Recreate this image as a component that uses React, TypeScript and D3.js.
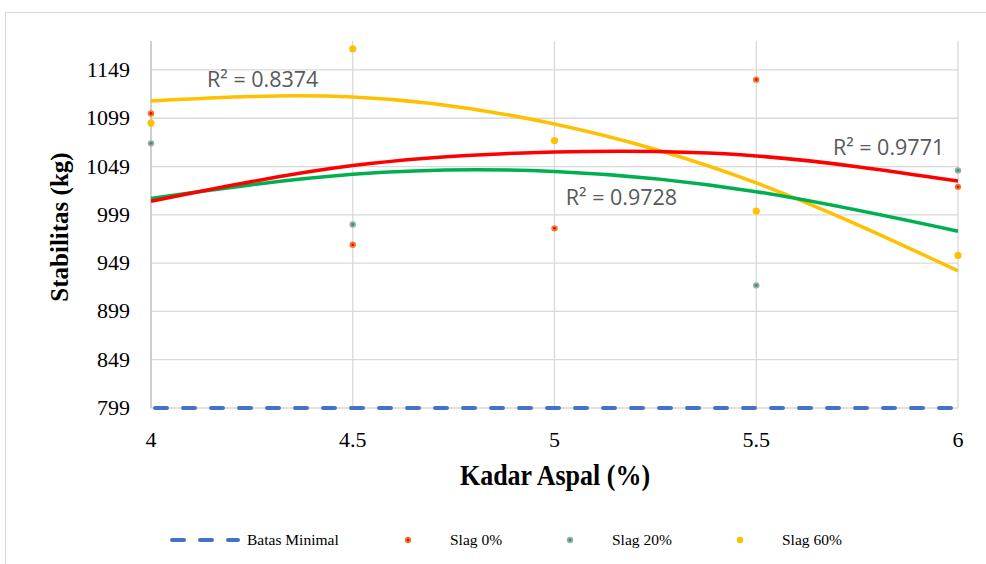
import React, { useEffect, useRef } from "react";
import * as d3 from "d3";

// Kadar aspal (%) on the x axis
const kadarAspal = [4, 4.5, 5, 5.5, 6];

// measured stabilitas (kg)
const slag0 = [1104, 968, 985, 1139, 1028];
const slag20 = [1073, 989, null, 926, 1045];
const slag60 = [1094, 1171, 1076, 1003, 957];

// polynomial trendlines (read at each kadar)
const trend0 = [1013, 1050, 1064, 1060, 1034];
const trend20 = [1016, 1041, 1044, 1023, 982];
const trend60 = [1117, 1121, 1093, 1032, 941];

const batasMinimal = 799;
const yTicks = [799, 849, 899, 949, 999, 1049, 1099, 1149];

// R² labels: [x value, y value, text]
const r2Labels: [number, number, string][] = [
  [4.139, 1131, "R² = 0.8374"],
  [5.028, 1009, "R² = 0.9728"],
  [5.69, 1061, "R² = 0.9771"],
];

const serif = "'Liberation Serif', 'Times New Roman', serif";

export default function App() {
  const ref = useRef<SVGSVGElement>(null);

  useEffect(() => {
    const svg = d3.select(ref.current);
    svg.selectAll("*").remove();

    const x = d3.scaleLinear().domain([4, 6]).range([151, 958]);
    const y = d3.scaleLinear().domain([799, 1179]).range([408, 41]);

    // chart frame
    svg
      .append("rect")
      .attr("x", 5.5)
      .attr("y", 12.5)
      .attr("width", 1000)
      .attr("height", 600)
      .attr("fill", "#fff")
      .attr("stroke", "#d9d9d9");

    const grid = svg.append("g");
    grid
      .selectAll(".hgrid")
      .data(yTicks)
      .enter()
      .append("line")
      .attr("x1", x(4))
      .attr("x2", x(6))
      .attr("y1", (d) => y(d))
      .attr("y2", (d) => y(d))
      .attr("stroke", "#d9d9d9")
      .attr("stroke-width", 1.3);
    grid
      .selectAll(".vgrid")
      .data(kadarAspal.slice(1))
      .enter()
      .append("line")
      .attr("x1", (d) => x(d))
      .attr("x2", (d) => x(d))
      .attr("y1", y(1179))
      .attr("y2", y(799))
      .attr("stroke", "#d9d9d9")
      .attr("stroke-width", 1.3);
    // left axis line
    grid
      .append("line")
      .attr("x1", x(4))
      .attr("x2", x(4))
      .attr("y1", y(1179))
      .attr("y2", y(799))
      .attr("stroke", "#bfbfbf")
      .attr("stroke-width", 1.5);

    // tick labels
    svg
      .append("g")
      .selectAll("text")
      .data(yTicks)
      .enter()
      .append("text")
      .attr("x", x(4) - 21)
      .attr("y", (d) => y(d) + 7)
      .attr("text-anchor", "end")
      .attr("font-family", serif)
      .attr("font-size", 22)
      .attr("fill", "#000")
      .text((d) => d);
    svg
      .append("g")
      .selectAll("text")
      .data(kadarAspal)
      .enter()
      .append("text")
      .attr("x", (d) => x(d))
      .attr("y", y(799) + 39)
      .attr("text-anchor", "middle")
      .attr("font-family", serif)
      .attr("font-size", 22)
      .attr("fill", "#000")
      .text((d) => d);

    // axis titles
    svg
      .append("text")
      .attr("transform", "translate(68,227) rotate(-90)")
      .attr("text-anchor", "middle")
      .attr("font-family", serif)
      .attr("font-weight", "bold")
      .attr("font-size", 25)
      .text("Stabilitas (kg)");
    svg
      .append("text")
      .attr("transform", "translate(555,485) scale(1,1.12)")
      .attr("text-anchor", "middle")
      .attr("font-family", serif)
      .attr("font-weight", "bold")
      .attr("font-size", 26)
      .text("Kadar Aspal (%)");

    // batas minimal
    svg
      .append("line")
      .attr("x1", x(4) + 4)
      .attr("x2", x(6) - 4)
      .attr("y1", y(batasMinimal))
      .attr("y2", y(batasMinimal))
      .attr("stroke", "#4472c4")
      .attr("stroke-width", 4)
      .attr("stroke-linecap", "round")
      .attr("stroke-dasharray", "12 16");

    // trendlines
    const line = d3
      .line<number>()
      .x((d, i) => x(kadarAspal[i]))
      .y((d) => y(d))
      .curve(d3.curveNatural);
    const trends: [number[], string][] = [
      [trend60, "#ffc000"],
      [trend20, "#00b050"],
      [trend0, "#ff0000"],
    ];
    trends.forEach(([vals, color]) => {
      svg
        .append("path")
        .attr("d", line(vals))
        .attr("fill", "none")
        .attr("stroke", color)
        .attr("stroke-width", 3.5);
    });

    // markers
    const drawPoints = (vals: (number | null)[], outer: string, inner: string | null, r: number) => {
      const pts = kadarAspal
        .map((k, i) => [k, vals[i]] as [number, number | null])
        .filter((p) => p[1] !== null) as [number, number][];
      const g = svg.append("g");
      g.selectAll("circle.o")
        .data(pts)
        .enter()
        .append("circle")
        .attr("cx", (d) => x(d[0]))
        .attr("cy", (d) => y(d[1]))
        .attr("r", r)
        .attr("fill", outer);
      if (inner) {
        g.selectAll("circle.i")
          .data(pts)
          .enter()
          .append("circle")
          .attr("cx", (d) => x(d[0]))
          .attr("cy", (d) => y(d[1]))
          .attr("r", 1.4)
          .attr("fill", inner);
      }
    };
    drawPoints(slag0, "#ed7d31", "#ff0000", 3.2);
    drawPoints(slag20, "#a5a5a5", "#00b050", 3.2);
    drawPoints(slag60, "#ffc000", null, 3.6);

    // R² labels
    svg
      .append("g")
      .selectAll("text")
      .data(r2Labels)
      .enter()
      .append("text")
      .attr("x", (d) => x(d[0]))
      .attr("y", (d) => y(d[1]))
      .attr("font-family", "'Open Sans', 'Noto Sans', sans-serif")
      .attr("font-size", 21.5)
      .attr("fill", "#595959")
      .text((d) => d[2]);

    // legend
    const legend = svg.append("g").attr("font-family", serif).attr("font-size", 15.5);
    const ly = 540;
    legend
      .append("line")
      .attr("x1", 172)
      .attr("x2", 238)
      .attr("y1", ly)
      .attr("y2", ly)
      .attr("stroke", "#4472c4")
      .attr("stroke-width", 4)
      .attr("stroke-linecap", "round")
      .attr("stroke-dasharray", "12 16");
    legend.append("text").attr("x", 247).attr("y", ly + 5).text("Batas Minimal");

    const items: [string, string, string | null, number, number][] = [
      ["Slag 0%", "#ed7d31", "#ff0000", 408, 450],
      ["Slag 20%", "#a5a5a5", "#00b050", 570, 612],
      ["Slag 60%", "#ffc000", null, 740, 782],
    ];
    items.forEach(([label, outer, inner, cx, tx]) => {
      legend.append("circle").attr("cx", cx).attr("cy", ly).attr("r", 3.2).attr("fill", outer);
      if (inner) legend.append("circle").attr("cx", cx).attr("cy", ly).attr("r", 1.4).attr("fill", inner);
      legend.append("text").attr("x", tx).attr("y", ly + 5).text(label);
    });
  }, []);

  return (
    <svg
      ref={ref}
      width={986}
      height={564}
      style={{ position: "absolute", left: 0, top: 0, background: "#fff" }}
    />
  );
}
